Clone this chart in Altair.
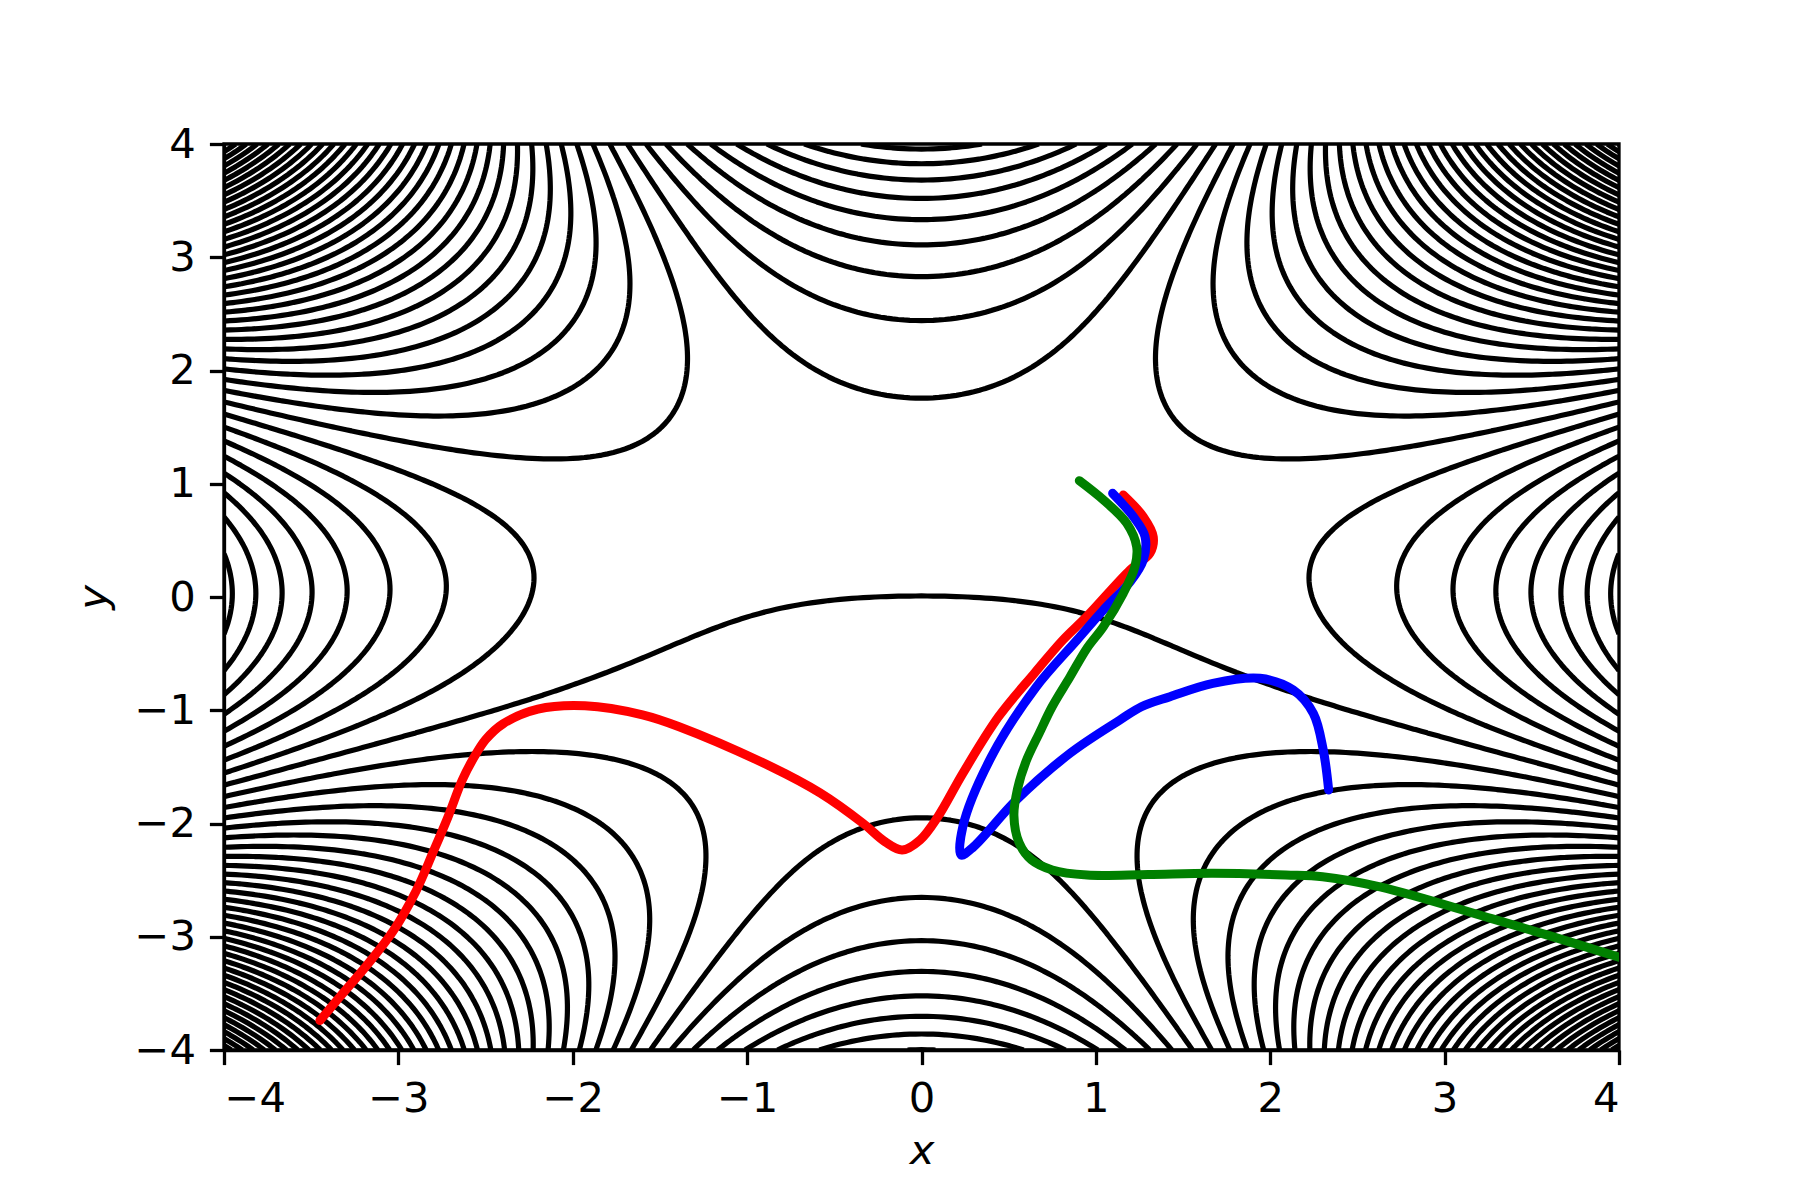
import itertools
from collections import defaultdict
import numpy as np
import pandas as pd
import altair as alt

# ---- contour crossings ----
top_y = [1.828, 2.431, 2.819, 3.093, 3.320, 3.506, 3.673, 3.821, 3.947]      # x = 0, upper lobe
side_x = [-2.245, -2.733, -3.053, -3.290, -3.497, -3.669, -3.818, -3.956]    # y = 0, side lobe
bottom_y = [-1.949, -2.667, -3.053, -3.309, -3.514, -3.697, -3.853, -3.99]  # x = 0, lower lobe
origin_x = [0.0, 0.5, -0.5, -0.995, -1.39, -1.916, -2.706]                  # contour through (0,0)
origin_y = [0.0, -0.02, -0.02, -0.174, -0.41, -0.733, -1.115]
corner_bl_x = [-2.285, -1.26]                                                # outer bottom-left lobe contour
corner_bl_y = [-1.38, -2.32]
corner_tl_x = [-2.05, -1.42]                                                 # outer top-left lobe contour
corner_tl_y = [1.27, 2.07]

# ---- trajectories ----
red_x = [1.157, 1.272, 1.329, 1.310, 1.196, 0.947, 0.811, 0.647, 0.442, 0.237, 0.094, -0.009, -0.111,
         -0.21, -0.336, -0.582, -0.863, -1.39, -1.60, -1.93, -2.20, -2.40, -2.50, -2.575, -2.635, -2.715,
         -2.80, -2.90, -3.03, -3.18, -3.33, -3.45]
red_y = [0.900, 0.709, 0.532, 0.386, 0.238, -0.174, -0.380, -0.674, -1.057, -1.557, -1.940, -2.146, -2.234,
         -2.16, -1.998, -1.730, -1.498, -1.145, -1.04, -0.96, -0.99, -1.12, -1.26, -1.44, -1.62, -1.94,
         -2.25, -2.60, -2.95, -3.25, -3.52, -3.74]
blue_x = [1.096, 1.215, 1.282, 1.272, 1.20, 1.043, 0.892, 0.655, 0.401, 0.237, 0.227, 0.299, 0.544, 0.852,
          1.138, 1.261, 1.425, 1.671, 1.941, 2.132, 2.247, 2.304, 2.335]
blue_y = [0.916, 0.709, 0.532, 0.327, 0.14, -0.115, -0.380, -0.800, -1.410, -2.028, -2.278, -2.205, -1.793,
          -1.380, -1.086, -0.969, -0.880, -0.762, -0.718, -0.821, -1.027, -1.351, -1.704]
green_x = [0.905, 1.043, 1.177, 1.234, 1.224, 1.157, 1.043, 0.950, 0.852, 0.749, 0.675, 0.600, 0.550, 0.530,
           0.560, 0.630, 0.750, 0.950, 1.300, 1.670, 2.090, 2.300, 2.630, 3.270, 3.600, 4.000]
green_y = [1.027, 0.857, 0.651, 0.444, 0.268, 0.032, -0.262, -0.450, -0.704, -0.969, -1.204, -1.450, -1.700,
           -1.930, -2.170, -2.320, -2.410, -2.455, -2.450, -2.440, -2.455, -2.470, -2.560, -2.840, -2.990,
           -3.180]


def basis(x, y, sx, sy, y0):
    x = np.asarray(x, float)
    y = np.asarray(y, float)
    z = x + 1j * y
    bump = np.exp(-(x ** 2 / sx ** 2 + (y - y0) ** 2 / sy ** 2))
    B = np.stack([(z ** 2).real, (z ** 3).imag, z.imag, np.ones_like(x), bump], -1)
    return B, (z ** 4).real


# fit a smooth field whose equally spaced level curves pass through the read crossings
fams = [
    (np.zeros(len(top_y)), np.array(top_y), True),
    (np.array(side_x), np.zeros(len(side_x)), True),
    (np.zeros(len(bottom_y)), np.array(bottom_y), True),
    (np.array(origin_x), np.array(origin_y), False),
    (np.array(corner_bl_x), np.array(corner_bl_y), False),
    (np.array(corner_tl_x), np.array(corner_tl_y), False),
]

best = None
for sx, sy, y0 in itertools.product([0.8, 1.0, 1.2, 1.5, 2.0], [0.5, 0.7, 0.9, 1.2], [-1.4, -1.1, -0.8, -0.5]):
    fb = [basis(px, py, sx, sy, y0) + (px, py, inc) for px, py, inc in fams]
    for ns, nb, n0, nbl, ntl in itertools.product([-1, 0, 1], [-2, -1, 0], [-2, -1, 0], [-3, -2, -1], [-3, -2, -1, 0]):
        offs = [0, ns, nb, n0, nbl, ntl]
        rows, rhs, ws = [], [], []
        for fi, (B, r4, px, py, inc) in enumerate(fb):
            n = len(r4)
            k = offs[fi] + (np.arange(n) if inc else np.zeros(n))
            rows.append(np.column_stack([B, -k]))
            rhs.append(-r4)
            ws.append(1.0 / (4 * np.hypot(px, py) ** 3 + 8.0))
        w = np.concatenate(ws)
        A = np.vstack(rows) * w[:, None]
        bvec = np.concatenate(rhs) * w
        p, *_ = np.linalg.lstsq(A, bvec, rcond=None)
        if p[-1] <= 1:
            continue
        res = np.sqrt(np.mean((A @ p - bvec) ** 2))
        if best is None or res < best[0]:
            best = (res, p, offs, (sx, sy, y0))

res, p, offs, (SX, SY, Y0) = best
coef = p[:-1]
d = p[-1]

N = 241
xs = np.linspace(-4, 4, N)
ys = np.linspace(-4, 4, N)
XX, YY = np.meshgrid(xs, ys)
Bg, R4 = basis(XX, YY, SX, SY, Y0)
Z = R4 + Bg @ coef


def march(Z, level):
    ny, nx = Z.shape
    b = Z > level
    b0 = b[:-1, :-1]; b1 = b[:-1, 1:]; b2 = b[1:, 1:]; b3 = b[1:, :-1]
    case = b0 * 1 + b1 * 2 + b2 * 4 + b3 * 8
    jj, ii = np.nonzero((case > 0) & (case < 15))
    NH = ny * (nx - 1)
    table = {1: [('L', 'B')], 2: [('B', 'R')], 3: [('L', 'R')], 4: [('R', 'T')], 6: [('B', 'T')],
             7: [('L', 'T')], 8: [('T', 'L')], 9: [('B', 'T')], 11: [('R', 'T')], 12: [('L', 'R')],
             13: [('B', 'R')], 14: [('L', 'B')]}
    segs = []
    for j, i in zip(jj, ii):
        c = case[j, i]
        edges = {'B': j * (nx - 1) + i, 'T': (j + 1) * (nx - 1) + i, 'L': NH + j * nx + i, 'R': NH + j * nx + i + 1}
        if c in (5, 10):
            center = (Z[j, i] + Z[j, i + 1] + Z[j + 1, i] + Z[j + 1, i + 1]) / 4 > level
            if c == 5:
                pairs = [('L', 'T'), ('B', 'R')] if center else [('L', 'B'), ('R', 'T')]
            else:
                pairs = [('L', 'B'), ('R', 'T')] if center else [('B', 'R'), ('L', 'T')]
        else:
            pairs = table[c]
        for a, bb in pairs:
            segs.append((edges[a], edges[bb]))

    def pt(e):
        if e < NH:
            j, i = divmod(e, nx - 1)
            t = (level - Z[j, i]) / (Z[j, i + 1] - Z[j, i])
            return xs[i] + t * (xs[i + 1] - xs[i]), ys[j]
        e2 = e - NH
        j, i = divmod(e2, nx)
        t = (level - Z[j, i]) / (Z[j + 1, i] - Z[j, i])
        return xs[i], ys[j] + t * (ys[j + 1] - ys[j])

    adj = defaultdict(list)
    for s, (a, bb) in enumerate(segs):
        adj[a].append(s)
        adj[bb].append(s)
    used = [False] * len(segs)

    def walk(e0, s):
        chain = [e0]
        cur = e0
        while s is not None and not used[s]:
            used[s] = True
            a, bb = segs[s]
            nxt = bb if a == cur else a
            chain.append(nxt)
            cur = nxt
            s = None
            for s2 in adj[nxt]:
                if not used[s2]:
                    s = s2
                    break
        return chain

    lines = []
    for e, lst in list(adj.items()):
        if len(lst) == 1 and not used[lst[0]]:
            lines.append(walk(e, lst[0]))
    for s in range(len(segs)):
        if not used[s]:
            lines.append(walk(segs[s][0], s))
    return [[pt(e) for e in ch] for ch in lines]


kmin = int(np.ceil(Z.min() / d))
kmax = int(np.floor(Z.max() / d))
rows = []
cid = 0
for k in range(kmin, kmax + 1):
    for line in march(Z, k * d):
        for o, (px, py) in enumerate(line):
            rows.append((cid, o, round(float(px), 4), round(float(py), 4)))
        cid += 1
cdf = pd.DataFrame(rows, columns=['cid', 'o', 'x', 'y'])

traj = []
for name, tx, ty in [('red', red_x, red_y), ('blue', blue_x, blue_y), ('green', green_x, green_y)]:
    for o, (px, py) in enumerate(zip(tx, ty)):
        traj.append((name, o, px, py))
tdf = pd.DataFrame(traj, columns=['run', 'o', 'x', 'y'])

FS = 41.7
ticks = [-4, -3, -2, -1, 0, 1, 2, 3, 4]
common_axis = dict(values=ticks, format='d', labelFontSize=FS, labelFont='DejaVu Sans', labelColor='black',
                   tickColor='black', tickSize=14.6, tickWidth=3.3, domainColor='black', domainWidth=3.3,
                   grid=False, labelPadding=14, titleFont='DejaVu Sans', titleFontStyle='italic',
                   titleFontWeight='normal', titleFontSize=FS, titleColor='black')
xsc = alt.Scale(domain=[-4, 4], nice=False, zero=False)
ysc = alt.Scale(domain=[-4, 4], nice=False, zero=False)

cont = alt.Chart(cdf).mark_line(color='black', strokeWidth=5.2, clip=True, strokeJoin='round').encode(
    x=alt.X('x:Q', scale=xsc, axis=alt.Axis(title='x', titlePadding=10, **common_axis)),
    y=alt.Y('y:Q', scale=ysc, axis=alt.Axis(title='y', titlePadding=18, **common_axis)),
    detail='cid:N', order='o:Q')

trajl = alt.Chart(tdf).mark_line(strokeWidth=9, clip=True, strokeCap='round', strokeJoin='round',
                                 interpolate='catmull-rom').encode(
    x=alt.X('x:Q', scale=xsc), y=alt.Y('y:Q', scale=ysc),
    color=alt.Color('run:N', scale=alt.Scale(domain=['red', 'blue', 'green'],
                                             range=['#ff0000', '#0000ff', '#008000']), legend=None),
    detail='run:N', order='o:Q')

chart = alt.layer(cont, trajl).properties(
    width=1395, height=906, autosize=alt.AutoSizeParams(type='none'),
    padding={'left': 216, 'top': 136, 'right': 172, 'bottom': 142}
).configure_view(stroke='black', strokeWidth=3.3)

chart.save("out.html", embed_options={"renderer": "svg", "actions": False})
